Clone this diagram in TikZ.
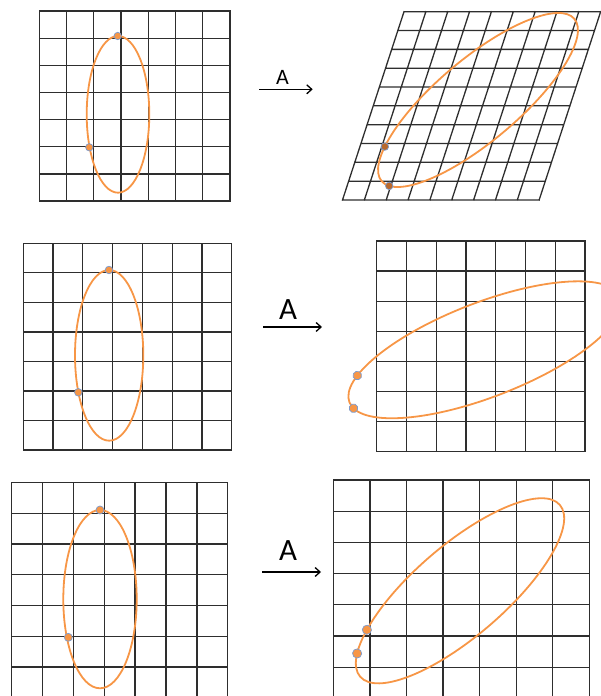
\documentclass[tikz,border=0pt]{standalone}
\usepackage{fontspec}
\setmainfont{Carlito}
\usetikzlibrary{arrows.meta}
\definecolor{ellOrange}{RGB}{247,150,70}
\definecolor{dotRing}{RGB}{125,155,205}
\definecolor{dotDark}{RGB}{185,105,45}
\providecommand{\gridLineWidth}{1.3pt}
\providecommand{\ellLineWidth}{1.8pt}
\begin{document}
\begin{tikzpicture}[x=1pt, y=1pt,
  gridline/.style={draw=black!82, line width=\gridLineWidth, line cap=rect},
  ellcurve/.style={draw=ellOrange, line width=\ellLineWidth},
  ptdot/.style={fill=ellOrange, draw=dotRing, line width=0.7pt},
  maparrow/.style={-{Straight Barb[length=5pt,width=9pt]}, line width=1.3pt},
  maplabel/.style={font=\fontsize{22}{26}\selectfont, inner sep=0pt},
  biglabel/.style={maplabel, font=\fontsize{31}{36}\selectfont}]
\useasboundingbox (0,0) rectangle (601,696);
\clip (0,0) rectangle (601,696);
% ---------- Row 1: sheared grid ----------
% Original grid
\begin{scope}[shift={(39.3,495)}, x=27.24pt, y=27.14pt]
  \draw[gridline] (0,0) grid[step=1] (7,7);
\end{scope}
\draw[ellcurve] (118,581.65) ellipse [x radius=31.3, y radius=78.35];
\draw[ptdot] (117.7,660) circle [radius=3.7];
\draw[ptdot] (89.3,548.7) circle [radius=3.7];
% Map A
\coordinate (arrOneS) at (259.3,606.7);
\coordinate (arrOneE) at (312.7,606.7);
\node[maplabel] (lblOne) at (282.5,619) {A};
\draw[maparrow] (arrOneS) -- (arrOneE);
% Image grid, slanted
\begin{scope}[shift={(342.5,496)}, xslant=0.3266, x=21.85pt, y=18.83pt]
  \draw[gridline] (0,0) grid[step=1] (9,10);
\end{scope}
\begin{scope}[shift={(478,596)}, rotate=40.1]
  \draw[ellcurve] (0,0) ellipse [x radius=126, y radius=41];
  \draw[ptdot, fill=dotDark] (143.5:126 and 41) circle [radius=3.8];
  \draw[ptdot, fill=dotDark] (192:126 and 41) circle [radius=3.8];
\end{scope}
% ---------- Row 2 ----------
\begin{scope}[shift={(23.3,246)}, x=29.77pt, y=29.53pt]
  \draw[gridline] (0,0) grid[step=1] (7,7);
\end{scope}
\draw[ellcurve] (109.15,340.65) ellipse [x radius=34.15, y radius=85.35];
\draw[ptdot] (109,426) circle [radius=3.8];
\draw[ptdot] (78.3,303.7) circle [radius=3.8];
% Map A
\coordinate (arrTwoS) at (263,369);
\coordinate (arrTwoE) at (322,369);
\node[biglabel] (lblTwo) at (288,386) {A};
\draw[maparrow] (arrTwoS) -- (arrTwoE);
% Image grid
\begin{scope}[shift={(376.7,244.3)}, x=29.76pt, y=30.1pt]
  \draw[gridline] (0,0) grid[step=1] (7,7);
\end{scope}
\begin{scope}[shift={(484.9,346.2)}, rotate=21.2]
  \draw[ellcurve] (0,0) ellipse [x radius=145.3, y radius=47.1];
  \draw[ptdot] (152:145.3 and 47.1) circle [radius=4.3];
  \draw[ptdot] (188.5:145.3 and 47.1) circle [radius=4.3];
\end{scope}
% ---------- Row 3 ----------
\begin{scope}[shift={(11.7,-1.6)}, x=30.86pt, y=30.7pt]
  \draw[gridline] (0,0) grid[step=1] (7,7);
\end{scope}
\draw[ellcurve] (100,96.85) ellipse [x radius=36.7, y radius=89.15];
\draw[ptdot] (100,186) circle [radius=4];
\draw[ptdot] (68.3,58.7) circle [radius=4];
% Map A
\coordinate (arrThreeS) at (262,124);
\coordinate (arrThreeE) at (321,124);
\node[biglabel] (lblThree) at (288,145) {A};
\draw[maparrow] (arrThreeS) -- (arrThreeE);
% Image grid
\begin{scope}[shift={(333.3,-2.4)}, x=36.57pt, y=31.2pt]
  \draw[gridline] (0,0) grid[step=1] (7,7);
\end{scope}
\begin{scope}[shift={(460,105.2)}, rotate=40.7]
  \draw[ellcurve] (0,0) ellipse [x radius=131.7, y radius=45.5];
  \draw[ptdot] (136.8:131.7 and 45.5) circle [radius=4.6];
  \draw[ptdot] (154.5:131.7 and 45.5) circle [radius=4.6];
\end{scope}
\end{tikzpicture}
\end{document}
